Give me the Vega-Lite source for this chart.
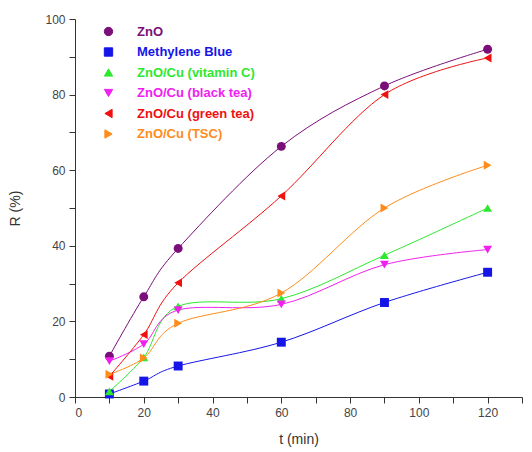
{
  "$schema": "https://vega.github.io/schema/vega-lite/v6.json",
  "width": 447,
  "height": 378,
  "autosize": "none",
  "padding": {"left": 75, "top": 19, "right": 10, "bottom": 55},
  "background": "white",
  "config": {
    "view": {"stroke": null},
    "font": "Liberation Sans"
  },
  "data": {
    "values": [
      {"t": 10, "R": 10.8, "s": "ZnO"},
      {"t": 20, "R": 26.5, "s": "ZnO"},
      {"t": 30, "R": 39.3, "s": "ZnO"},
      {"t": 60, "R": 66.3, "s": "ZnO"},
      {"t": 90, "R": 82.3, "s": "ZnO"},
      {"t": 120, "R": 92.0, "s": "ZnO"},
      {"t": 10, "R": 0.8, "s": "Methylene Blue"},
      {"t": 20, "R": 4.2, "s": "Methylene Blue"},
      {"t": 30, "R": 8.2, "s": "Methylene Blue"},
      {"t": 60, "R": 14.5, "s": "Methylene Blue"},
      {"t": 90, "R": 25.0, "s": "Methylene Blue"},
      {"t": 120, "R": 33.0, "s": "Methylene Blue"},
      {"t": 10, "R": 1.5, "s": "ZnO/Cu (vitamin C)"},
      {"t": 20, "R": 10.5, "s": "ZnO/Cu (vitamin C)"},
      {"t": 30, "R": 24.0, "s": "ZnO/Cu (vitamin C)"},
      {"t": 60, "R": 26.0, "s": "ZnO/Cu (vitamin C)"},
      {"t": 90, "R": 37.5, "s": "ZnO/Cu (vitamin C)"},
      {"t": 120, "R": 50.0, "s": "ZnO/Cu (vitamin C)"},
      {"t": 10, "R": 9.5, "s": "ZnO/Cu (black tea)"},
      {"t": 20, "R": 14.0, "s": "ZnO/Cu (black tea)"},
      {"t": 30, "R": 23.0, "s": "ZnO/Cu (black tea)"},
      {"t": 60, "R": 24.5, "s": "ZnO/Cu (black tea)"},
      {"t": 90, "R": 35.0, "s": "ZnO/Cu (black tea)"},
      {"t": 120, "R": 39.0, "s": "ZnO/Cu (black tea)"},
      {"t": 10, "R": 5.5, "s": "ZnO/Cu (green tea)"},
      {"t": 20, "R": 16.5, "s": "ZnO/Cu (green tea)"},
      {"t": 30, "R": 30.2, "s": "ZnO/Cu (green tea)"},
      {"t": 60, "R": 53.2, "s": "ZnO/Cu (green tea)"},
      {"t": 90, "R": 80.0, "s": "ZnO/Cu (green tea)"},
      {"t": 120, "R": 89.7, "s": "ZnO/Cu (green tea)"},
      {"t": 10, "R": 6.0, "s": "ZnO/Cu (TSC)"},
      {"t": 20, "R": 10.3, "s": "ZnO/Cu (TSC)"},
      {"t": 30, "R": 19.5, "s": "ZnO/Cu (TSC)"},
      {"t": 60, "R": 27.5, "s": "ZnO/Cu (TSC)"},
      {"t": 90, "R": 50.0, "s": "ZnO/Cu (TSC)"},
      {"t": 120, "R": 61.3, "s": "ZnO/Cu (TSC)"}
    ]
  },
  "transform": [{"calculate": "datum.s", "as": "series"}],
  "encoding": {
    "x": {
      "field": "t", "type": "quantitative",
      "scale": {"domain": [0, 130], "nice": false, "zero": false},
      "axis": {
        "title": "t (min)", "titleFontSize": 14, "titleFontWeight": "normal", "titleColor": "#333", "titlePadding": 14,
        "values": [0, 10, 20, 30, 40, 50, 60, 70, 80, 90, 100, 110, 120, 130],
        "labelExpr": "datum.value % 20 === 0 && datum.value <= 120 ? datum.label : ''",
        "labelFontSize": 12, "labelColor": "#444", "labelPadding": 4,
        "grid": false, "domainColor": "#333", "tickColor": "#333", "tickSize": 6,
        "encode": {"ticks": {"update": {"y2": {"signal": "datum.value % 20 === 0 ? 6 : 3"}}}}
      }
    },
    "y": {
      "field": "R", "type": "quantitative",
      "scale": {"domain": [0, 100], "nice": false},
      "axis": {
        "title": "R (%)", "titleFontSize": 14, "titleFontWeight": "normal", "titleColor": "#333", "titlePadding": 22,
        "values": [0, 10, 20, 30, 40, 50, 60, 70, 80, 90, 100],
        "labelExpr": "datum.value % 20 === 0 ? datum.label : ''",
        "labelFontSize": 12, "labelColor": "#444", "labelPadding": 4,
        "grid": false, "domainColor": "#333", "tickColor": "#333", "tickSize": 6,
        "encode": {"ticks": {"update": {"x2": {"signal": "datum.value % 20 === 0 ? -6 : -3"}}}}
      }
    }
  },
  "layer": [
    {
      "mark": {"type": "line", "interpolate": "cardinal", "tension": 0, "strokeWidth": 1},
      "encoding": {
        "color": {
          "field": "s", "type": "nominal",
          "scale": {
            "domain": ["ZnO", "Methylene Blue", "ZnO/Cu (vitamin C)", "ZnO/Cu (black tea)", "ZnO/Cu (green tea)", "ZnO/Cu (TSC)"],
            "range": ["#7a0f7a", "#1515e8", "#2ee82e", "#f020f0", "#f01010", "#ff8c1a"]
          },
          "legend": {
            "title": null, "orient": "none", "legendX": 27, "legendY": 6,
            "labelFontSize": 13, "labelFontWeight": "bold", "rowPadding": 6.5,
            "labelOffset": 22,
            "symbolSize": 70, "symbolStrokeWidth": 1,
            "encode": {
              "labels": {"update": {"fill": {"scale": "color", "field": "value"}}},
              "symbols": {"update": {
                "shape": {"signal": "datum.value === 'ZnO' ? 'M-4.5,0L4.5,0M-1,0A1,1 0 1,0 1,0A1,1 0 1,0 -1,0Z' : datum.value === 'Methylene Blue' ? 'M-4.5,0L4.5,0M-1,-1L1,-1L1,1L-1,1Z' : datum.value === 'ZnO/Cu (vitamin C)' ? 'M-4.5,0L4.5,0M0,-1.15L1.15,0.85L-1.15,0.85Z' : datum.value === 'ZnO/Cu (black tea)' ? 'M-4.5,0L4.5,0M0,1.15L1.15,-0.85L-1.15,-0.85Z' : datum.value === 'ZnO/Cu (green tea)' ? 'M-4.5,0L4.5,0M-1.15,0L0.85,-1.15L0.85,1.15Z' : 'M-4.5,0L4.5,0M1.15,0L-0.85,-1.15L-0.85,1.15Z'"},
                "fill": {"scale": "color", "field": "value"},
                "stroke": {"scale": "color", "field": "value"},
                "strokeWidth": {"value": 1},
                "strokeOpacity": {"value": 1},
                "opacity": {"value": 1}
              }}
            }
          }
        }
      }
    },
    {
      "mark": {"type": "point", "filled": true, "size": 80, "opacity": 1},
      "encoding": {
        "fill": {"field": "series", "type": "nominal", "scale": {
          "domain": ["ZnO", "Methylene Blue", "ZnO/Cu (vitamin C)", "ZnO/Cu (black tea)", "ZnO/Cu (green tea)", "ZnO/Cu (TSC)"],
          "range": ["#7a0f7a", "#1515e8", "#2ee82e", "#f020f0", "#f01010", "#ff8c1a"]
        }, "legend": null},
        "shape": {
          "field": "series", "type": "nominal",
          "scale": {
            "domain": ["ZnO", "Methylene Blue", "ZnO/Cu (vitamin C)", "ZnO/Cu (black tea)", "ZnO/Cu (green tea)", "ZnO/Cu (TSC)"],
            "range": ["circle", "square", "triangle-up", "triangle-down", "triangle-left", "triangle-right"]
          },
          "legend": null
        }
      }
    }
  ]
}
